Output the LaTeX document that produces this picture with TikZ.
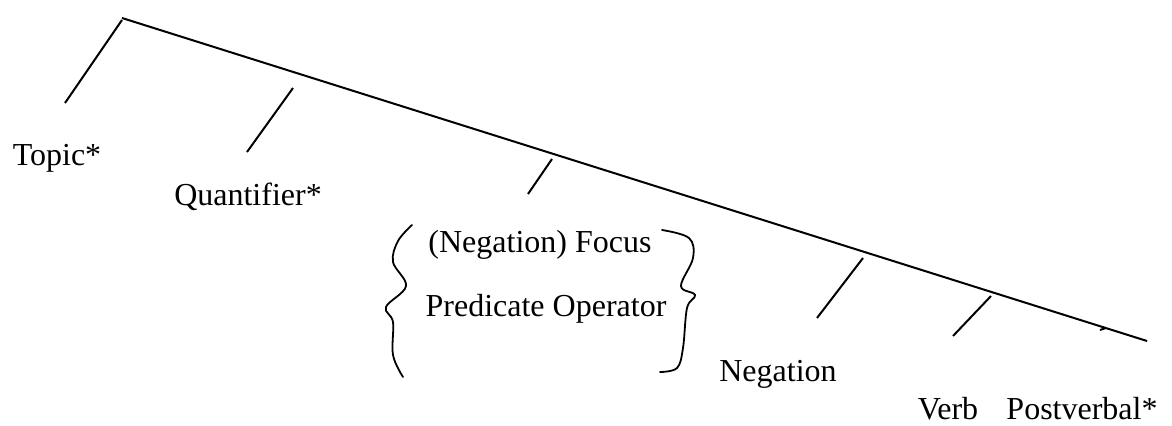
\documentclass[tikz,border=0pt]{standalone}
\usepackage{fontspec}
\setmainfont{Liberation Serif}

\tikzset{
  branch/.style={line width=1pt},
  cat/.style={inner sep=0pt,anchor=base,font=\fontsize{16}{19}\selectfont},
  curly/.style={line width=0.9pt,line cap=round}
}

\begin{document}
\begin{tikzpicture}[x=0.5pt,y=0.5pt]
\useasboundingbox (0,0) rectangle (1172,425);
% spine
\coordinate (root) at (122,407);
\coordinate (tip) at (1147,84);
\draw[branch] (root) -- (tip);
% daughters
\coordinate (topT) at (122,405);   \coordinate (topB) at (65,322);
\coordinate (quaT) at (293,337);   \coordinate (quaB) at (247,273);
\coordinate (focT) at (552,266);   \coordinate (focB) at (528,231);
\coordinate (negT) at (863,167);   \coordinate (negB) at (817,107);
\coordinate (verT) at (991,129);   \coordinate (verB) at (953,89);
\coordinate (posT) at (1106,97);   \coordinate (posB) at (1100,95);
\draw[branch] (topT) -- (topB);
\draw[branch] (quaT) -- (quaB);
\draw[branch] (focT) -- (focB);
\draw[branch] (negT) -- (negB);
\draw[branch] (verT) -- (verB);
\draw[branch] (posT) -- (posB);
% labels
\node[cat] (topic) at (57,260) {Topic*};
\node[cat] (quant) at (248,220) {Quantifier*};
\node[cat] (focus) at (540,173) {(Negation) Focus};
\node[cat] (predop) at (546,109) {Predicate Operator};
\node[cat] (neg) at (778,44) {Negation};
\node[cat] (verb) at (948,6) {Verb};
\node[cat] (postv) at (1082,6) {Postverbal*};
% braces, drawn by hand
\draw[curly] plot[smooth,tension=0.6] coordinates
  {(412,200) (398,184) (393,163) (406,139) (386,118) (393,103) (393,70) (403,48)};
\draw[curly] plot[smooth,tension=0.6] coordinates
  {(662,195) (689,187) (693,167) (681,139) (695,130) (687,117) (683,77) (677,57) (660,53)};
\end{tikzpicture}
\end{document}
